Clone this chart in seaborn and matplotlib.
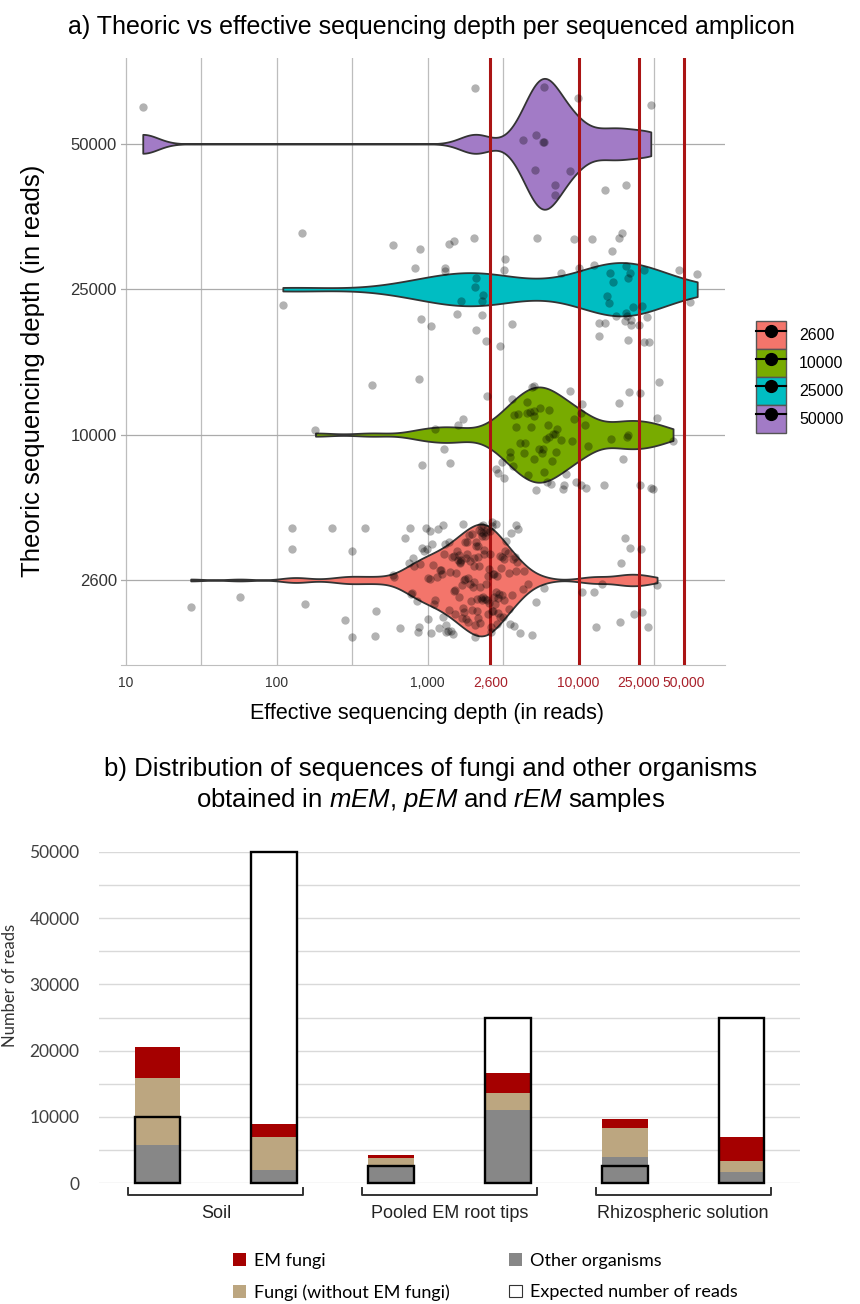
import numpy as np
import pandas as pd
import matplotlib
matplotlib.use("Agg")
from matplotlib import pyplot as plt
from matplotlib.patches import Patch
from matplotlib.lines import Line2D
from matplotlib.ticker import LogLocator, FixedLocator, MultipleLocator, NullFormatter
from matplotlib.transforms import blended_transform_factory
import seaborn as sns

# ---------- a) effective vs theoric depth ----------
theoric_levels = ["2600", "10000", "25000", "50000"]
theoric_depths = [2600, 10000, 25000, 50000]
violin_colors = ["#F3756B", "#78AB00", "#00BDC2", "#A27BC6"]

depth_2600 = [
    # spread / outlying amplicons
    27, 57, 126, 127, 155, 233, 282, 314, 316, 386, 448, 456, 589, 604, 660,
    757, 766, 789, 798, 847, 862, 888, 942, 970, 1000, 1042, 1062, 1100, 1195,
    1268, 1314, 1387, 1471, 1498, 1515, 1759, 3093, 3186, 3282, 3441, 3504,
    3695, 3806, 3830, 3876, 3970, 4263, 5248, 5943, 10580, 12574, 13106,
    14405, 18940, 19160, 20340, 21980, 23335, 25950, 26420, 28720, 33110,
    # body of the violin
    712, 775, 815, 880, 925, 985, 1012, 1035, 1068, 1090, 1120, 1148, 1170,
    1205, 1226, 1248, 1270, 1292, 1318, 1335, 1360, 1392, 1418, 1440, 1462,
    1490, 1520, 1548, 1572, 1592, 1606, 1622, 1640, 1652, 1668, 1680, 1697,
    1710, 1724, 1742, 1755, 1770, 1786, 1800, 1815, 1830, 1846, 1862, 1880,
    1896, 1912, 1935, 1958, 1980, 2004, 2018, 2030, 2046, 2060, 2071, 2088,
    2102, 2117, 2130, 2146, 2160, 2172, 2188, 2204, 2216, 2230, 2246, 2260,
    2275, 2288, 2302, 2318, 2332, 2347, 2362, 2378, 2395, 2410, 2428, 2445,
    2462, 2480, 2500, 2520, 2540, 2562, 2580, 2600, 2615, 2635, 2655, 2670,
    2690, 2712, 2730, 2752, 2770, 2795, 2820, 2846, 2870, 2895, 2920, 2950,
    2978, 3005, 3036, 3070, 3110, 3140, 3230, 3320, 3390, 3480, 3560, 3620,
    3760, 3900, 4080, 4350, 4620, 4900,
]
depth_10000 = [
    181, 427, 883, 920, 1126, 1291, 1411, 1590, 1728, 2482, 2828, 2949, 3130,
    3224, 3504, 3525, 3652, 3695, 3762, 3876, 3994, 4090, 4340, 4444, 4524,
    4546, 4632, 4745, 4830, 4917, 5035, 5060, 5090, 5080, 5218, 5470, 5537,
    5771, 5826, 5943, 6052, 6197, 6310, 6336, 6360, 6577, 6699, 6750, 7023,
    7112, 7170, 7674, 7862, 8052, 8245, 8800, 9016, 9339, 9572, 10394, 10450,
    10500, 11098, 11230, 11636, 14673, 16331, 18500, 19747, 21085, 21330,
    21590, 25340, 25640, 30290, 31010, 32920, 33920, 42240,
]
depth_25000 = [
    110, 147, 589, 822, 888, 904, 1048, 1299, 1307, 1387, 1498, 1571, 1677,
    2040, 2065, 2078, 2085, 2298, 2290, 2326, 2439, 3020, 3224, 3240, 3631,
    5312, 7674, 9395, 10030, 12204, 12726, 13585, 13665, 14937, 15382, 15849,
    16230, 16620, 17022, 17742, 18610, 19498, 20340, 20700, 20650, 21085,
    21100, 21330, 21980, 22370, 22400, 23050, 25190, 26240, 27050, 27000,
    28200, 29060, 45920, 54880, 61070,
]
depth_50000 = [
    13, 2070, 4290, 5130, 5190, 5810, 5950, 5900, 6980, 6950, 8750, 9910,
    14900, 20500, 30100,
]

x_ticks = [10, 100, 1000, 2600, 10000, 25000, 50000]
x_ticklabels = ["10", "100", "1,000", "2,600", "10,000", "25,000", "50,000"]

# ---------- b) sequence distribution ----------
samples = ["Soil 10000", "Soil 50000", "Pooled 2600", "Pooled 25000",
           "Rhizo 2600", "Rhizo 25000"]
groups = ["Soil", "Pooled EM root tips", "Rhizospheric solution"]
other_organisms = [5800, 2000, 2750, 11050, 3950, 1700]
fungi_no_em = [10100, 4900, 1050, 2500, 4300, 1600]
em_fungi = [4600, 2000, 450, 3100, 1450, 3650]
expected_reads = [10000, 50000, 2600, 25000, 2600, 25000]

em_color = "#A50000"
fungi_color = "#BCA680"
other_color = "#878787"
red_line = "#AA1414"


def nrd0(kde):
    # R's default bandwidth (as used by ggplot's geom_violin)
    data = kde.dataset.ravel()
    sd = np.std(data, ddof=1)
    iqr = np.subtract(*np.percentile(data, [75, 25]))
    bw = 0.9 * min(sd, iqr / 1.34) * len(data) ** -0.2
    return bw / sd


plt.rcParams["font.family"] = ["Liberation Sans", "DejaVu Sans"]
plt.rcParams["mathtext.fontset"] = "custom"
plt.rcParams["mathtext.rm"] = "Liberation Sans"
plt.rcParams["mathtext.it"] = "Liberation Sans:italic"

fig = plt.figure(figsize=(8.6, 13.04), dpi=100)

# ---------- top panel ----------
all_depths = [depth_2600, depth_10000, depth_25000, depth_50000]
df = pd.DataFrame({
    "theoric": np.repeat(theoric_levels, [len(d) for d in all_depths]),
    "effective": np.concatenate(all_depths),
})
order = theoric_levels[::-1]
palette = dict(zip(theoric_levels, violin_colors))

ax1 = fig.add_axes([121 / 860, 0.490, 604 / 860, 0.4655])
sns.violinplot(
    data=df, x="effective", y="theoric", hue="theoric", order=order,
    hue_order=theoric_levels, palette=palette, log_scale=True, cut=0,
    inner=None, bw_method=nrd0, density_norm="area", common_norm=True,
    width=0.9, linewidth=1.3, linecolor="#333333", saturation=1,
    gridsize=300, legend=False, ax=ax1,
)
np.random.seed(11)
sns.stripplot(
    data=df, x="effective", y="theoric", order=order, color="black",
    alpha=0.3, jitter=0.4, size=6, linewidth=0, log_scale=True, ax=ax1,
    zorder=4,
)
for d in theoric_depths:
    ax1.axvline(d, color=red_line, lw=2.2, zorder=3)

ax1.set_xlim(9.33, 93300)
ax1.set_ylim(3.585, -0.59)
ax1.xaxis.set_major_locator(FixedLocator(x_ticks))
ax1.set_xticklabels(x_ticklabels)
ax1.xaxis.set_minor_locator(LogLocator(base=10, subs=(1.0, 10 ** 0.5), numticks=30))
ax1.xaxis.set_minor_formatter(NullFormatter())
ax1.xaxis.remove_overlapping_locs = False
ax1.set_axisbelow(True)
ax1.grid(False, which="major", axis="x")
ax1.grid(True, which="minor", axis="x", color="#BDBDBD", lw=0.9)
ax1.grid(True, which="major", axis="y", color="#ABABAB", lw=0.9)
ax1.tick_params(axis="both", which="both", length=0)
ax1.tick_params(axis="x", labelsize=10, pad=8, labelcolor="#333333")
ax1.tick_params(axis="y", labelsize=12, pad=3, labelcolor="#333333")
for lbl, val in zip(ax1.get_xticklabels(), x_ticks):
    if val in theoric_depths:
        lbl.set_color("#A8202A")
for side in ["top", "right", "left"]:
    ax1.spines[side].set_visible(False)
ax1.spines["bottom"].set_color("#BEBEBE")
ax1.set_xlabel("")
ax1.set_ylabel("")

fig.text(431 / 860, 1 - 27 / 1304,
         "a) Theoric vs effective sequencing depth per sequenced amplicon",
         ha="center", va="center", fontsize=18)
fig.text(427 / 860, 1 - 713 / 1304, "Effective sequencing depth (in reads)",
         ha="center", va="center", fontsize=15.5)
fig.text(33 / 860, 1 - 371 / 1304, "Theoric sequencing depth (in reads)",
         ha="center", va="center", rotation=90, fontsize=18.5)

legend_handles = [
    (Patch(facecolor=c, edgecolor="#555555", lw=1.0),
     Line2D([], [], color="black", marker="o", markersize=8.5, lw=1.5))
    for c in violin_colors
]
fig.legend(
    legend_handles, theoric_levels, loc="center left",
    bbox_to_anchor=(756 / 860, 1 - 377 / 1304), frameon=False, fontsize=11.5,
    handlelength=1.9, handleheight=2.3, labelspacing=0.0, handletextpad=0.8,
    borderpad=0, borderaxespad=0, numpoints=1,
)

# ---------- bottom panel ----------
bar_df = pd.DataFrame({
    "sample": samples,
    "other": other_organisms,
    "fungi": fungi_no_em,
    "em": em_fungi,
    "expected": expected_reads,
})
bar_df["fungi_top"] = bar_df["other"] + bar_df["fungi"]
bar_df["em_top"] = bar_df["fungi_top"] + bar_df["em"]

ax2 = fig.add_axes([99 / 860, (1304 - 1183) / 1304, 701 / 860, 331 / 1304])
bar_kws = dict(data=bar_df, x="sample", width=0.39, errorbar=None,
               saturation=1, linewidth=0, ax=ax2)
sns.barplot(y="expected", color="white", **bar_kws)
sns.barplot(y="em_top", color=em_color, **bar_kws)
sns.barplot(y="fungi_top", color=fungi_color, **bar_kws)
sns.barplot(y="other", color=other_color, **bar_kws)
sns.barplot(data=bar_df, x="sample", y="expected", width=0.39, errorbar=None,
            fill=False, color="black", linewidth=1.7, ax=ax2)
for p in ax2.patches:
    p.set_clip_on(False)

ax2.set_xlim(-0.5, len(samples) - 0.5)
ax2.set_ylim(0, 50000)
ax2.yaxis.set_major_locator(MultipleLocator(10000))
ax2.yaxis.set_minor_locator(MultipleLocator(5000))
ax2.set_axisbelow(True)
ax2.grid(True, which="both", axis="y", color="#D9D9D9", lw=1.0)
ax2.grid(False, axis="x")
ax2.set_xticks(range(len(samples)))
ax2.set_xticklabels([])
ax2.tick_params(axis="both", which="both", length=0)
ax2.tick_params(axis="y", labelsize=12.5, pad=14, labelcolor="#404040")
for lbl in ax2.get_yticklabels():
    lbl.set_family(["Lato", "DejaVu Sans"])
for side in ax2.spines:
    ax2.spines[side].set_visible(False)
ax2.set_xlabel("")
ax2.set_ylabel("")

trans = blended_transform_factory(ax2.transData, ax2.transAxes)
for gi, g in enumerate(groups):
    x0, x1 = 2 * gi - 0.25, 2 * gi + 1.25
    ax2.plot([x0, x0, x1, x1], [-0.015, -0.036, -0.036, -0.015],
             transform=trans, clip_on=False, color="#333333", lw=1.4)
    ax2.text(2 * gi + 0.5, -0.092, g, transform=trans, ha="center",
             va="center", fontsize=13, color="#222222")

fig.text(10 / 860, 1 - 985 / 1304, "Number of reads", rotation=90,
         ha="center", va="center", fontsize=12, color="#333333",
         family=["Lato", "DejaVu Sans"])
fig.text(431 / 860, 1 - 769 / 1304,
         "b) Distribution of sequences of fungi and other organisms",
         ha="center", va="center", fontsize=18.5)
fig.text(431 / 860, 1 - 800 / 1304,
         r"obtained in $\mathit{mEM}$, $\mathit{pEM}$ and $\mathit{rEM}$ samples",
         ha="center", va="center", fontsize=18.5)

bar_handles = [
    Patch(facecolor=em_color, edgecolor="none"),
    Patch(facecolor=fungi_color, edgecolor="none"),
    Patch(facecolor=other_color, edgecolor="none"),
    Patch(facecolor="white", edgecolor="#333333", lw=0.8),
]
bar_labels = ["EM fungi", "Fungi (without EM fungi)", "Other organisms",
              "Expected number of reads"]
fig.legend(
    bar_handles, bar_labels, ncol=2, loc="upper left",
    bbox_to_anchor=(233 / 860, 1 - 1253 / 1304), frameon=False,
    prop={"family": ["Lato", "DejaVu Sans"], "size": 13},
    handlelength=0.7, handleheight=0.7, handletextpad=0.45,
    columnspacing=3.3, labelspacing=0.85, borderpad=0, borderaxespad=0,
)

fig.savefig("out.png", dpi=100)
